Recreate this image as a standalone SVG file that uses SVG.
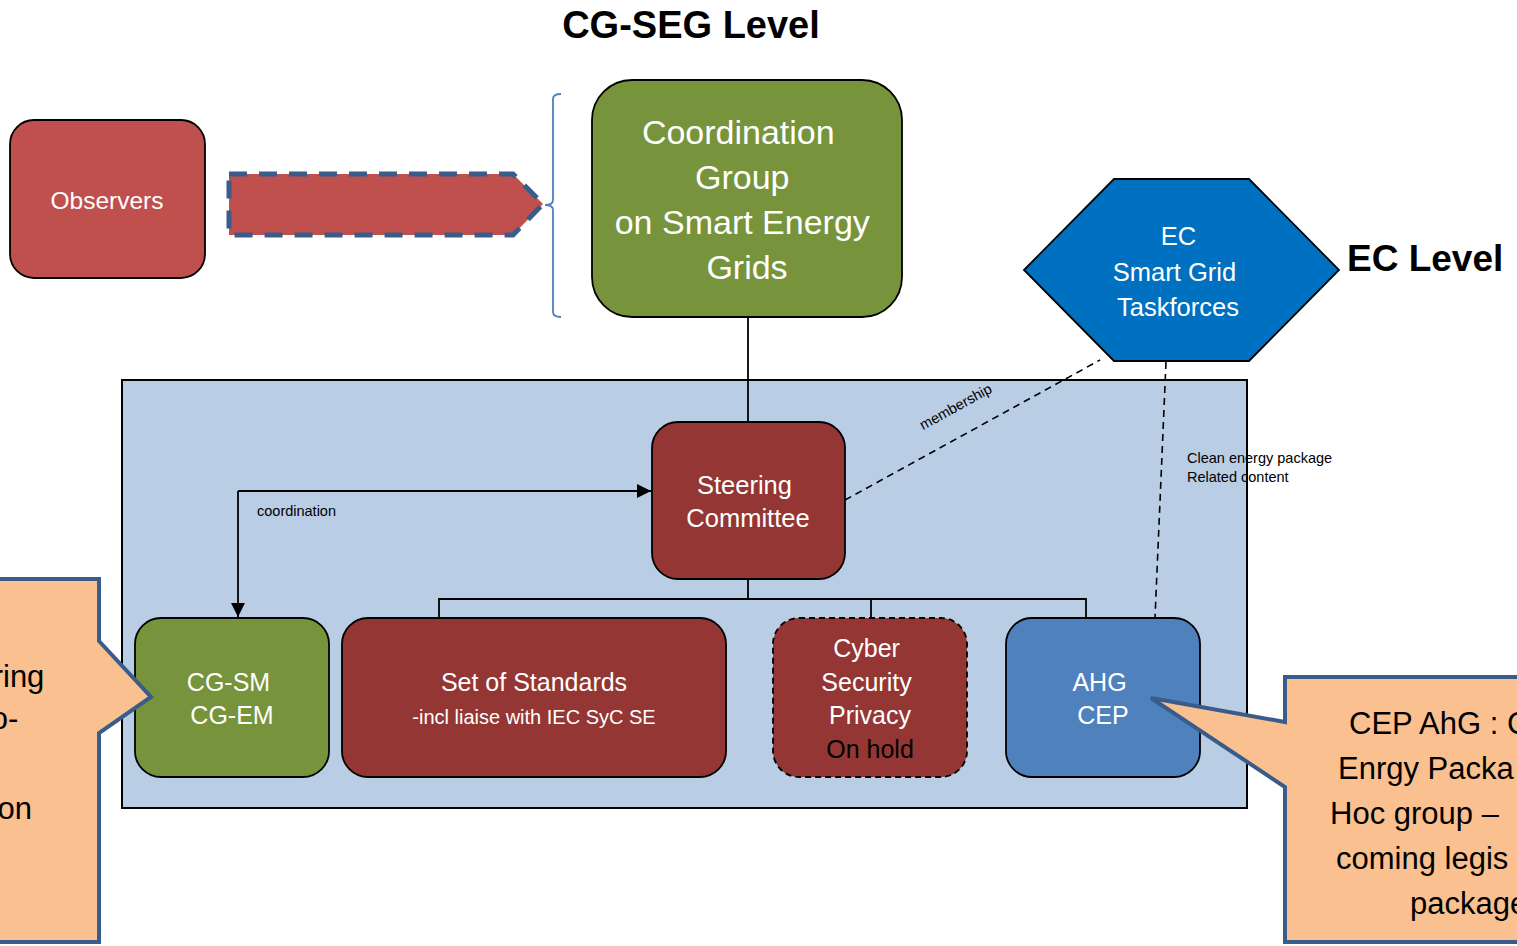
<svg xmlns="http://www.w3.org/2000/svg" width="1517" height="946" viewBox="0 0 1517 946">
  <defs>
    <style>
      text { font-family: "Liberation Sans", Arial, sans-serif; }
      .node { stroke: #000; stroke-width: 1.8; }
      .red { fill: #943634; }
      .green { fill: #77933C; }
      .wt { fill: #fff; text-anchor: middle; }
      .title { font-weight: bold; fill: #000; }
      .conn { fill: none; stroke: #000; stroke-width: 1.8; }
      .dash { fill: none; stroke: #000; stroke-width: 1.6; stroke-dasharray: 7 5; }
      .callout { fill: #FAC090; stroke: #385D8A; stroke-width: 4; stroke-linejoin: miter; }
      .small { font-size: 14.5px; fill: #000; }
      .big { font-size: 31px; fill: #000; }
    </style>
    <marker id="arrBig" viewBox="0 0 10 10" refX="10" refY="5" markerWidth="14" markerHeight="14" orient="auto" markerUnits="userSpaceOnUse">
      <path d="M0,0 L10,5 L0,10 z" fill="#000"/>
    </marker>
  </defs>

  <rect width="1517" height="946" fill="#fff"/>

  <!-- headings -->
  <text x="691" y="38" class="title" font-size="38" text-anchor="middle">CG-SEG Level</text>
  <text x="1347" y="271" class="title" font-size="37">EC Level</text>

  <!-- working-group area -->
  <rect id="wg-area" x="122" y="380" width="1125" height="428" fill="#B9CDE5" stroke="#000" stroke-width="2"/>

  <!-- connectors -->
  <g id="connectors">
    <line class="conn" x1="748" y1="317" x2="748" y2="422"/>
    <path class="conn" d="M748,579 V599 M439,618 V599 H1086 V618 M871,599 V618"/>
    <path class="conn" stroke-width="2.5" d="M238,491 H651" marker-end="url(#arrBig)"/>
    <path class="conn" stroke-width="2.5" d="M238,491 V617" marker-end="url(#arrBig)"/>
    <line class="dash" x1="845" y1="500" x2="1100" y2="360"/>
    <line class="dash" x1="1166" y1="362" x2="1155" y2="618"/>
    <text class="small" font-size="14" transform="translate(958,411) rotate(-28.8)" text-anchor="middle">membership</text>
    <text class="small" x="1187" y="463">Clean energy package</text>
    <text class="small" x="1187" y="482">Related content</text>
    <text class="small" x="257" y="516">coordination</text>
    <!-- observer link -->
    <polygon points="229,174 513,174 543,204 513,235 229,235" fill="#C0504D" stroke="#385D8A" stroke-width="5" stroke-dasharray="18 12"/>
    <path d="M561,94 Q553,94 553,99 V200 Q553,205 545,205 Q553,205 553,210 V312 Q553,317 561,317" fill="none" stroke="#4F81BD" stroke-width="1.8"/>
  </g>

  <!-- nodes -->
  <g id="observers">
    <rect class="node" x="10" y="120" width="195" height="158" rx="24" fill="#C0504D"/>
    <text class="wt" x="107" y="209" font-size="24.5">Observers</text>
  </g>

  <g id="cg-seg">
    <rect class="node green" x="592" y="80" width="310" height="237" rx="40"/>
    <text class="wt" font-size="34">
      <tspan x="743" y="144">Coordination</tspan>
      <tspan x="747" y="189">Group</tspan>
      <tspan x="747" y="234">on Smart Energy</tspan>
      <tspan x="747" y="279">Grids</tspan>
    </text>
  </g>

  <g id="ec-taskforces">
    <polygon class="node" points="1024,270 1114,179 1249,179 1339,270 1249,361 1114,361" fill="#0070C0"/>
    <text class="wt" font-size="25.5">
      <tspan x="1182" y="245">EC</tspan>
      <tspan x="1178" y="281">Smart Grid</tspan>
      <tspan x="1178" y="316">Taskforces</tspan>
    </text>
  </g>

  <g id="steering">
    <rect class="node red" x="652" y="422" width="193" height="157" rx="26"/>
    <text class="wt" font-size="25.5">
      <tspan x="748" y="494">Steering</tspan>
      <tspan x="748" y="527">Committee</tspan>
    </text>
  </g>

  <g id="cg-sm">
    <rect class="node green" x="135" y="618" width="194" height="159" rx="26"/>
    <text class="wt" font-size="25">
      <tspan x="232" y="691">CG-SM</tspan>
      <tspan x="232" y="724">CG-EM</tspan>
    </text>
  </g>

  <g id="standards">
    <rect class="node red" x="342" y="618" width="384" height="159" rx="26"/>
    <text class="wt" x="534" y="691" font-size="25">Set of Standards</text>
    <text class="wt" x="534" y="724" font-size="20">-incl liaise with IEC SyC SE</text>
  </g>

  <g id="cyber">
    <rect class="red" x="773" y="618" width="194" height="159" rx="26" stroke="#000" stroke-width="1.8" stroke-dasharray="6 4"/>
    <text class="wt" font-size="25">
      <tspan x="870" y="657">Cyber</tspan>
      <tspan x="870" y="691">Security</tspan>
      <tspan x="870" y="724">Privacy</tspan>
    </text>
    <text x="870" y="758" font-size="25" fill="#000" text-anchor="middle">On hold</text>
  </g>

  <g id="ahg-cep">
    <rect class="node" x="1006" y="618" width="194" height="159" rx="26" fill="#4F81BD"/>
    <text class="wt" font-size="25">
      <tspan x="1103" y="691">AHG</tspan>
      <tspan x="1103" y="724">CEP</tspan>
    </text>
  </g>

  <!-- callouts (extend past the canvas edges) -->
  <g id="callout-left">
    <path class="callout" d="M-10,579 H99 V641 L151,697 L99,733 V942 H-10 Z"/>
    <text class="big" text-anchor="end">
      <tspan x="53" y="687">ring</tspan>
      <tspan x="27" y="729">o-</tspan>
      <tspan x="32" y="819">on</tspan>
    </text>
  </g>

  <g id="callout-right">
    <path class="callout" d="M1285,677 H1530 V942 H1285 V787 L1151,698 L1285,722 Z"/>
    <text class="big">
      <tspan x="1349" y="734">CEP AhG : C</tspan>
      <tspan x="1338" y="779">Enrgy Packa</tspan>
      <tspan x="1330" y="824">Hoc group –</tspan>
      <tspan x="1336" y="869">coming legis</tspan>
      <tspan x="1410" y="914">package</tspan>
    </text>
  </g>
</svg>
